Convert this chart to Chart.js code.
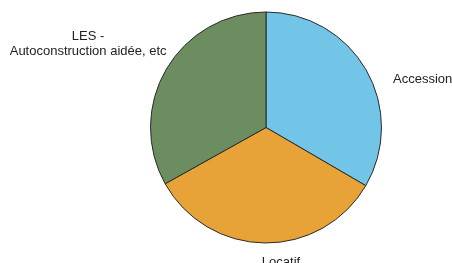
<!DOCTYPE html>
<html>
<head>
<meta charset="utf-8">
<script src="https://cdn.jsdelivr.net/npm/chart.js@4/dist/chart.umd.min.js"></script>
<style>
html,body{margin:0;padding:0;background:#ffffff;}
#wrap{width:452px;height:263px;position:relative;}
</style>
</head>
<body>
<div id="wrap"><canvas id="c" width="452" height="263"></canvas></div>
<script>
const categories = ["Accession", "Locatif", "LES -\nAutoconstruction aidée, etc"];
const shares = [33.4, 33.5, 33.1];
const sliceColors = ["#72c5e6", "#e8a338", "#6b8d5f"];

const labelPlugin = {
  id: 'outerLabels',
  afterDraw(chart) {
    const ctx = chart.ctx;
    const meta = chart.getDatasetMeta(0);
    const arc = meta.data[0];
    const cx = arc.x, cy = arc.y, r = arc.outerRadius;
    // offsets relative to pie centre, in units of radius
    const place = [
      {dx: 1.10, dy: -0.415, align: 'left'},
      {dx: 0.13, dy: 1.165, align: 'center'},
      {dx: -1.54, dy: -0.79, align: 'center'}
    ];
    ctx.save();
    ctx.fillStyle = '#222222';
    ctx.font = '13px "Liberation Sans", Arial, sans-serif';
    ctx.textBaseline = 'middle';
    categories.forEach((lab, i) => {
      const p = place[i];
      const lines = lab.split('\n');
      ctx.textAlign = p.align;
      lines.forEach((ln, j) => {
        ctx.fillText(ln, cx + p.dx * r, cy + p.dy * r + j * 15);
      });
    });
    ctx.restore();
  }
};

new Chart(document.getElementById('c'), {
  type: 'pie',
  data: {
    labels: categories,
    datasets: [{
      data: shares,
      backgroundColor: sliceColors,
      borderColor: '#2b2b2b',
      borderWidth: 1
    }]
  },
  options: {
    responsive: false,
    animation: false,
    radius: 115.5,
    layout: {padding: {left: 80, right: 0, top: 0, bottom: 8}},
    plugins: {legend: {display: false}, tooltip: {enabled: false}}
  },
  plugins: [labelPlugin]
});
</script>
</body>
</html>
